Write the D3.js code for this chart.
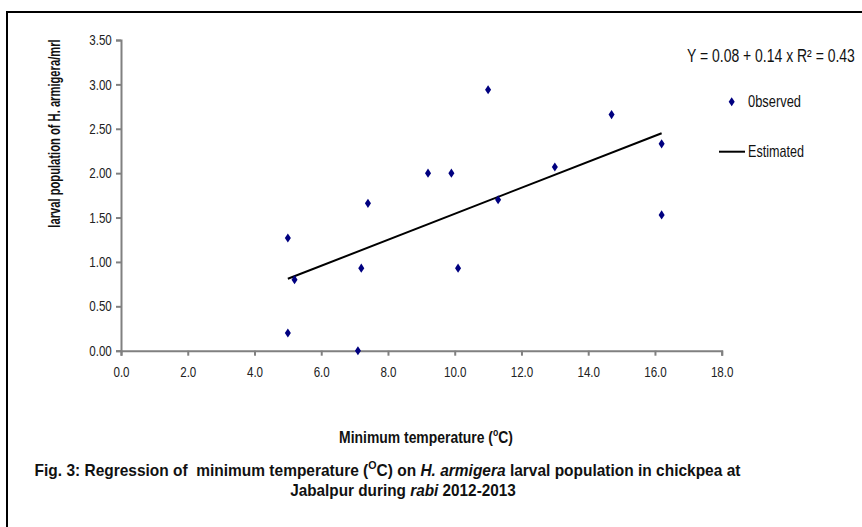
<!DOCTYPE html>
<html>
<head>
<meta charset="utf-8">
<script src="https://cdn.jsdelivr.net/npm/d3@7"></script>
<style>
  body { margin: 0; background: #fff; }
  svg { display: block; }
  text { font-family: "Liberation Sans", Arial, sans-serif; fill: #111; }
  .axis text { font-size: 14px; fill: #222; }
  .axis path, .axis line { stroke: #808080; stroke-width: 2px; }
</style>
</head>
<body>
<svg width="862" height="527"></svg>
<script>
// observed points (min temp, larvae/mrl)
var minTemp = [5.0, 5.0, 5.2, 7.1, 7.2, 7.4, 9.2, 9.9, 10.1, 11.0, 11.3, 13.0, 14.7, 16.2, 16.2];
var larvae  = [1.27, 0.20, 0.80, 0.00, 0.93, 1.66, 2.00, 2.00, 0.93, 2.94, 1.70, 2.07, 2.66, 2.33, 1.53];
// estimated line endpoints
var estX = [5.0, 16.2];
var estY = [0.81, 2.45];
var xTicks = [0, 2, 4, 6, 8, 10, 12, 14, 16, 18];
var yTicks = [0, 0.5, 1, 1.5, 2, 2.5, 3, 3.5];

var svg = d3.select("svg"),
    width = +svg.attr("width"),
    height = +svg.attr("height");

// squeeze a text horizontally around x0 so it is w px wide
function fit(sel, x0, w) {
  var s = w / sel.node().getBBox().width;
  sel.attr("transform", "translate(" + x0 + ",0) scale(" + s + ",1) translate(" + (-x0) + ",0)");
}

// frame (only left and top edges show)
svg.append("path")
    .attr("d", "M7," + height + "V12H" + width)
    .attr("fill", "none")
    .attr("stroke", "#000")
    .attr("stroke-width", 2);

var x = d3.scaleLinear().domain([0, 18]).range([121, 721.7]);
var y = d3.scaleLinear().domain([0, 3.5]).range([350.7, 40]);

var xAxis = svg.append("g")
    .attr("class", "axis")
    .attr("transform", "translate(0," + y(0) + ")")
    .call(d3.axisBottom(x).tickValues(xTicks).tickFormat(d3.format(".1f")).tickSize(5).tickSizeOuter(5).tickPadding(11));
xAxis.selectAll("text").style("font-size", "14.5px").attr("transform", "scale(0.8,1)");

var yAxis = svg.append("g")
    .attr("class", "axis")
    .attr("transform", "translate(" + x(0) + ",0)")
    .call(d3.axisLeft(y).tickValues(yTicks).tickFormat(d3.format(".2f")).tickSize(5).tickSizeOuter(5).tickPadding(6.5));
yAxis.selectAll("text").style("font-size", "14.5px").attr("transform", "scale(0.8,1)");

// regression line
var est = estX.map(function(d, i) { return [d, estY[i]]; });
svg.append("path")
    .datum(est)
    .attr("fill", "none")
    .attr("stroke", "#000")
    .attr("stroke-width", 2)
    .attr("d", d3.line().x(function(d) { return x(d[0]); }).y(function(d) { return y(d[1]); }));

var diamond = d3.symbol().type(d3.symbolDiamond).size(24);

svg.append("g").selectAll("path")
    .data(minTemp)
    .enter().append("path")
    .attr("d", diamond)
    .attr("fill", "#000080")
    .attr("transform", function(d, i) { return "translate(" + x(d) + "," + y(larvae[i]) + ") scale(1.15,1)"; });

// legend
var eq = svg.append("text")
    .attr("x", 687).attr("y", 62)
    .style("font-size", "17.5px")
    .text("Y = 0.08 + 0.14 x  R\u00b2 = 0.43");
fit(eq, 687, 168);

svg.append("path")
    .attr("d", diamond)
    .attr("fill", "#000080")
    .attr("transform", "translate(731.7,101.7) scale(1.15,1)");
var obs = svg.append("text")
    .attr("x", 748).attr("y", 107)
    .style("font-size", "16px")
    .text("0bserved");
fit(obs, 748, 53);

svg.append("line")
    .attr("x1", 719).attr("x2", 745)
    .attr("y1", 151.7).attr("y2", 151.7)
    .attr("stroke", "#000").attr("stroke-width", 2);
var estT = svg.append("text")
    .attr("x", 748).attr("y", 157)
    .style("font-size", "16px")
    .text("Estimated");
fit(estT, 748, 56);

// axis titles
svg.append("text")
    .attr("transform", "translate(59.5,133.5) rotate(-90) scale(0.7,1)")
    .attr("text-anchor", "middle")
    .style("font-weight", "bold")
    .style("font-size", "16px")
    .text("larval population of H. armigera/mrl");

var xt = svg.append("text")
    .attr("x", 426).attr("y", 443)
    .attr("text-anchor", "middle")
    .style("font-weight", "bold")
    .style("font-size", "16px");
xt.append("tspan").text("Minimum temperature (");
xt.append("tspan").attr("dy", -7).style("font-size", "10px").text("o");
xt.append("tspan").attr("dy", 7).text("C)");
fit(xt, 426, 174);

// caption
var cap1 = svg.append("text")
    .attr("x", 387.5).attr("y", 476)
    .attr("text-anchor", "middle")
    .style("font-weight", "bold")
    .style("font-size", "16px");
cap1.append("tspan").text("Fig. 3: Regression of \u00a0minimum temperature (");
cap1.append("tspan").attr("dy", -7).style("font-size", "11px").text("O");
cap1.append("tspan").attr("dy", 7).text("C) on ");
cap1.append("tspan").style("font-style", "italic").text("H. armigera");
cap1.append("tspan").text(" larval population in chickpea at");
fit(cap1, 387.5, 707);

var cap2 = svg.append("text")
    .attr("x", 403).attr("y", 496)
    .attr("text-anchor", "middle")
    .style("font-weight", "bold")
    .style("font-size", "16px");
cap2.append("tspan").text("Jabalpur during ");
cap2.append("tspan").style("font-style", "italic").text("rabi");
cap2.append("tspan").text(" 2012-2013");
fit(cap2, 403, 226);
</script>
</body>
</html>
